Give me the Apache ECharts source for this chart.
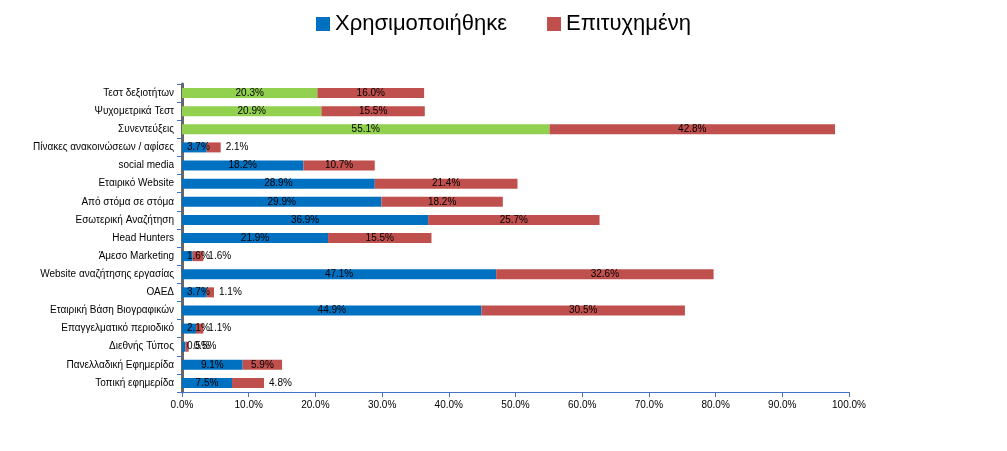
<!DOCTYPE html><html><head><meta charset="utf-8"><script src="https://cdn.jsdelivr.net/npm/echarts@6/dist/echarts.min.js"></script></head><body style="margin:0;background:#fff"><div id="c" style="width:1007px;height:451px"></div><script>
const categories=["Τεστ δεξιοτήτων","Ψυχομετρικά Τεστ","Συνεντεύξεις","Πίνακες ανακοινώσεων / αφίσες","social media","Εταιρικό Website","Από στόμα σε στόμα","Εσωτερική Αναζήτηση","Head Hunters","Άμεσο Marketing","Website αναζήτησης εργασίας","ΟΑΕΔ","Εταιρική Βάση Βιογραφικών","Επαγγελματικό περιοδικό","Διεθνής Τύπος","Πανελλαδική Εφημερίδα","Τοπική εφημερίδα"];
const used=[20.3,20.9,55.1,3.7,18.2,28.9,29.9,36.9,21.9,1.6,47.1,3.7,44.9,2.1,0.5,9.1,7.5];
const success=[16.0,15.5,42.8,2.1,10.7,21.4,18.2,25.7,15.5,1.6,32.6,1.1,30.5,1.1,0.5,5.9,4.8];
const greenRows=3;
const mk=(arr,color,isUsed)=>arr.map((v,i)=>({value:v,itemStyle:{color:(isUsed&&i<greenRows)?'#92D050':color},label:{position:v<5?(isUsed?'insideLeft':'right'):'inside'}}));
const ch=echarts.init(document.getElementById('c'));
ch.setOption({
 animation:false,
 legend:{top:8,left:'center',itemWidth:14,itemHeight:14,itemGap:40,textStyle:{fontSize:22,color:'#000',fontFamily:'Liberation Sans'},data:[{name:'Χρησιμοποιήθηκε',icon:'rect'},{name:'Επιτυχημένη',icon:'rect'}]},
 grid:{left:182,right:158,top:84,bottom:59},
 xAxis:{type:'value',min:0,max:100,interval:10,axisLabel:{formatter:v=>v.toFixed(1)+'%',fontSize:10,color:'#000'},splitLine:{show:false},axisLine:{show:true,lineStyle:{color:'#4472C4'}},axisTick:{show:true}},
 yAxis:{type:'category',inverse:true,data:categories,axisLabel:{fontSize:10,color:'#000'},axisLine:{lineStyle:{color:'#666',width:3}},axisTick:{show:true,lineStyle:{color:'#4472C4'}}},
 series:[
  {name:'Χρησιμοποιήθηκε',type:'bar',stack:'a',barWidth:10,color:'#0070C0',data:mk(used,'#0070C0',true),label:{show:true,formatter:p=>p.value.toFixed(1)+'%',fontSize:10,color:'#000'}},
  {name:'Επιτυχημένη',type:'bar',stack:'a',barWidth:10,color:'#C0504D',data:mk(success,'#C0504D',false),label:{show:true,formatter:p=>p.value.toFixed(1)+'%',fontSize:10,color:'#000'}}
 ]
});
</script></body></html>
